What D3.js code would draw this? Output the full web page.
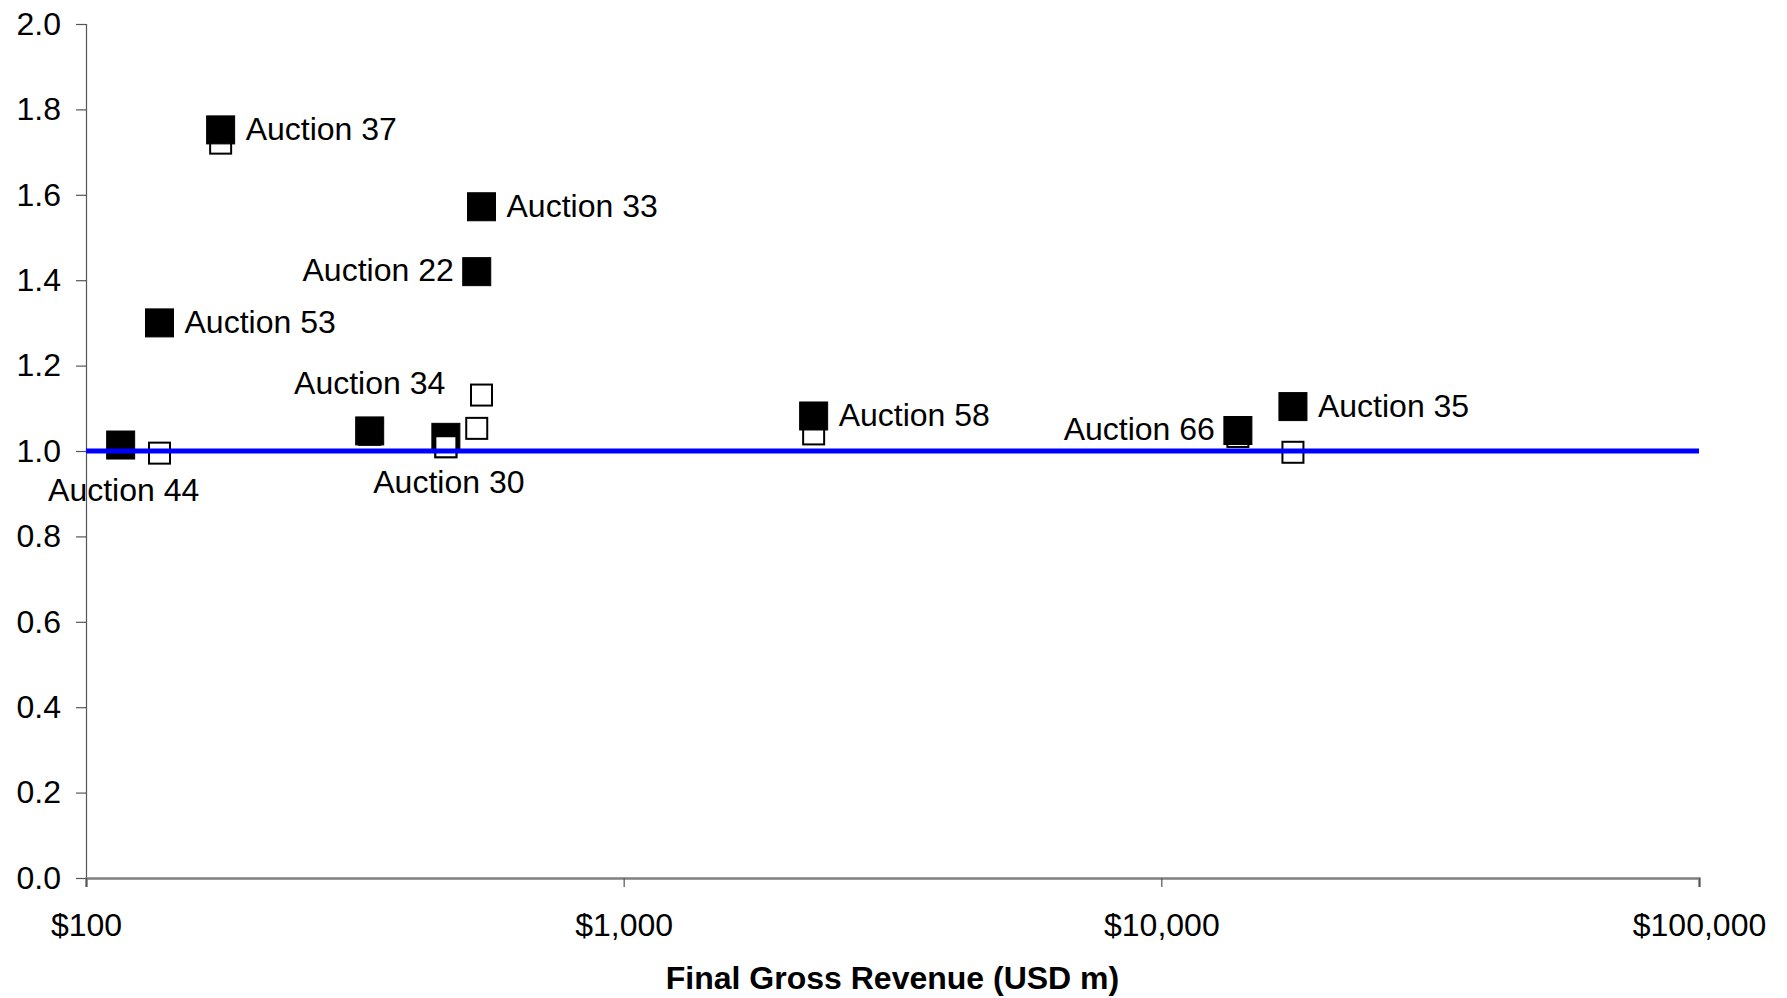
<!DOCTYPE html>
<html>
<head>
<meta charset="utf-8">
<script src="https://cdn.jsdelivr.net/npm/d3@7"></script>
<style>
  body { margin: 0; background: #fff; }
  svg { display: block; font-family: Arial, 'Liberation Sans', sans-serif; }
</style>
</head>
<body>
<svg id="chart" width="1787" height="998"></svg>
<script>
// data
const auctions = ['Auction 44', 'Auction 53', 'Auction 37', 'Auction 34', 'Auction 30',
                  'Auction 22', 'Auction 33', 'Auction 58', 'Auction 66', 'Auction 35'];
const revenue = [116, 137, 178, 337, 467, 533, 544, 2256, 13880, 17570];
const finalRatio = [1.014, 1.30, 1.752, 1.047, 1.032, 1.42, 1.572, 1.082, 1.048, 1.104];
const openRatio = [1.01, 0.995, 1.721, 1.039, 1.010, 1.053, 1.131, 1.040, 1.034, 0.997];
const parity = [{ x: 100, y: 1 }, { x: 100000, y: 1 }];
const yTicks = [0, 0.2, 0.4, 0.6, 0.8, 1.0, 1.2, 1.4, 1.6, 1.8, 2.0];
const xTicks = [100, 1000, 10000, 100000];
const xTitle = 'Final Gross Revenue (USD m)';

const plotLeft = 86, plotRight = 1699, plotTop = 24, plotBottom = 878;
const fontSize = 32;

const xScale = d3.scaleLog().domain([100, 100000]).range([plotLeft, plotRight]);
const yScale = d3.scaleLinear().domain([0, 2]).range([plotBottom, plotTop]);

const svg = d3.select('#chart');

// Y axis
const yAxis = d3.axisLeft(yScale)
    .tickValues(yTicks)
    .tickSize(10)
    .tickPadding(15)
    .tickFormat(d3.format('.1f'));
const yAxisGroup = svg.append('g')
    .attr('transform', `translate(${plotLeft},0)`)
    .call(yAxis);
yAxisGroup.select('.domain').attr('stroke', '#555').attr('stroke-width', 1.2);
yAxisGroup.selectAll('line').attr('stroke', '#555').attr('stroke-width', 1.2);
yAxisGroup.selectAll('text')
    .attr('fill', '#000')
    .attr('font-size', fontSize)
    .attr('font-family', "Arial, 'Liberation Sans', sans-serif");

// X axis
const xAxis = d3.axisBottom(xScale)
    .tickValues(xTicks)
    .tickSize(9)
    .tickPadding(26)
    .tickFormat((d) => '$' + d3.format(',')(d));
const xAxisGroup = svg.append('g')
    .attr('transform', `translate(0,${plotBottom})`)
    .call(xAxis);
xAxisGroup.select('.domain').attr('stroke', '#808080').attr('stroke-width', 2.5);
xAxisGroup.selectAll('line').attr('stroke', '#555').attr('stroke-width', 1.2);
xAxisGroup.selectAll('text')
    .attr('fill', '#000')
    .attr('font-size', fontSize)
    .attr('font-family', "Arial, 'Liberation Sans', sans-serif");

svg.append('text')
    .attr('x', (plotLeft + plotRight) / 2)
    .attr('y', 989)
    .attr('text-anchor', 'middle')
    .attr('font-size', fontSize)
    .attr('font-weight', 'bold')
    .text(xTitle);

const points = auctions.map((name, i) => ({
    name, rev: revenue[i], fin: finalRatio[i], open: openRatio[i]
}));

const filledSize = 28;
const openSize = 21;

const drawOpen = (sel) => sel.append('rect')
    .attr('x', (d) => xScale(d.rev) - openSize / 2)
    .attr('y', (d) => yScale(d.open) - openSize / 2)
    .attr('width', openSize)
    .attr('height', openSize)
    .attr('fill', '#fff')
    .attr('stroke', '#000')
    .attr('stroke-width', 2);

// open squares underneath
const openG = svg.append('g');
drawOpen(openG.selectAll('rect').data(points).enter());

// filled squares
svg.append('g').selectAll('rect')
    .data(points)
    .enter()
    .append('rect')
    .attr('x', (d) => xScale(d.rev) - filledSize / 2)
    .attr('y', (d) => yScale(d.fin) - filledSize / 2)
    .attr('width', filledSize)
    .attr('height', filledSize)
    .attr('fill', '#000')
    .attr('stroke', '#000')
    .attr('stroke-width', 1);

// Auction 30's open marker sits above its filled one in the original
drawOpen(svg.append('g').selectAll('rect')
    .data(points.filter((d) => d.name === 'Auction 30')).enter());

// parity line on top
const line = d3.line()
    .x((d) => xScale(d.x))
    .y((d) => yScale(d.y));
svg.append('path')
    .attr('d', line(parity))
    .attr('stroke', '#0000ff')
    .attr('stroke-width', 5)
    .attr('fill', 'none');

// data labels
const placement = {
    'Auction 44': 'below', 'Auction 53': 'right', 'Auction 37': 'right',
    'Auction 34': 'above', 'Auction 30': 'below', 'Auction 22': 'left',
    'Auction 33': 'right', 'Auction 58': 'right', 'Auction 66': 'left',
    'Auction 35': 'right'
};
svg.append('g').selectAll('text')
    .data(points)
    .enter()
    .append('text')
    .attr('font-size', fontSize)
    .attr('fill', '#000')
    .each(function (d) {
        const cx = xScale(d.rev), cy = yScale(d.fin);
        const pos = placement[d.name];
        const t = d3.select(this);
        if (pos === 'right') {
            t.attr('x', cx + 25).attr('y', cy + 10).attr('text-anchor', 'start');
        } else if (pos === 'left') {
            t.attr('x', cx - 23).attr('y', cy + 9).attr('text-anchor', 'end');
        } else if (pos === 'above') {
            t.attr('x', cx).attr('y', cy - 37).attr('text-anchor', 'middle');
        } else {
            t.attr('x', cx + 3).attr('y', cy + 56).attr('text-anchor', 'middle');
        }
    })
    .text((d) => d.name);
</script>
</body>
</html>
